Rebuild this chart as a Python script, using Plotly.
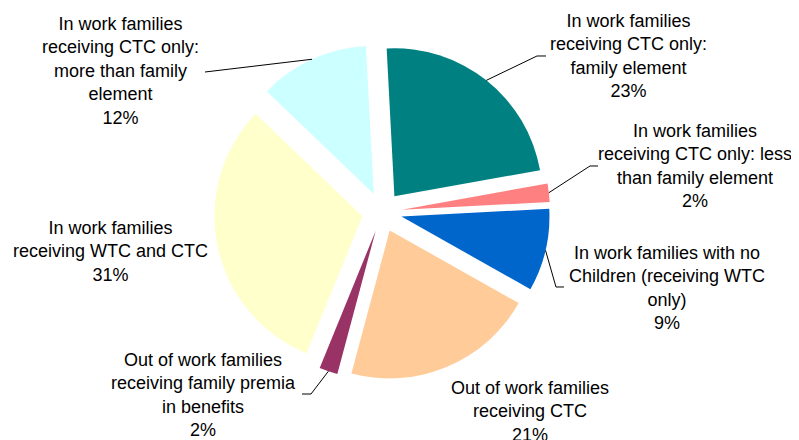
import math
import plotly.graph_objects as go

# ---------------- data ----------------
labels = [
    "In work families<br>receiving CTC only:<br>family element",
    "In work families<br>receiving CTC only: less<br>than family element",
    "In work families with no<br>Children (receiving WTC<br>only)",
    "Out of work families<br>receiving CTC",
    "Out of work families<br>receiving family premia<br>in benefits",
    "In work families<br>receiving WTC and CTC",
    "In work families<br>receiving CTC only:<br>more than family<br>element",
]
values = [23, 2, 9, 21, 2, 31, 12]
colors = ["#008080", "#FF8080", "#0066CC", "#FFCC99", "#993366", "#FFFFCC", "#CCFFFF"]

# ---------------- layout ----------------
VW, VH = 799, 440          # browser window
OFF = 8                    # page body margin
W, H = VW - OFF, VH - OFF  # figure size
CX, CY = 382, 212          # pie centre (window px)
R = 148                    # pie radius (px)
PULL = 0.135
ROT = -3                   # plotly rotation (deg, clockwise from 12 o'clock)
FONT = "Liberation Sans, Arial, sans-serif"

# label centres (window px) and leader label-side points (window px)
label_pos = [(628, 56), (695, 166), (667, 287.5), (530, 411), (203, 394.5), (110, 251.5), (120, 71)]
leader_pts = [
    [(537, 56), (546, 56)],
    [(590, 166), (598, 166)],
    [(556, 287), (564, 287)],
    None,
    [(311, 394), (302, 394)],
    None,
    [(205, 72)],
]

def px(x):
    return (x - OFF) / W

def py(y):
    return 1 - (y - OFF) / H

half = R * (1 + PULL)
fig = go.Figure(go.Pie(
    labels=labels,
    values=values,
    sort=False,
    direction="clockwise",
    rotation=ROT,
    pull=PULL,
    marker=dict(colors=colors, line=dict(width=0)),
    textinfo="none",
    showlegend=False,
    hoverinfo="skip",
    domain=dict(x=[px(CX - half), px(CX + half)], y=[py(CY + half), py(CY - half)]),
))

total = sum(values)
start = 90 - ROT
annotations = []
shapes = []
cum = 0
for i, v in enumerate(values):
    a0 = start - cum / total * 360
    cum += v
    a1 = start - cum / total * 360
    mid = math.radians((a0 + a1) / 2)
    ax = CX + R * (1 + PULL) * math.cos(mid)
    ay = CY - R * (1 + PULL) * math.sin(mid)
    lx, ly = label_pos[i]
    annotations.append(dict(
        x=px(lx), y=py(ly), xref="paper", yref="paper",
        xanchor="center", yanchor="middle", align="center",
        text=f"{labels[i]}<br>{v}%", showarrow=False,
        font=dict(family=FONT, size=18, color="#000000"),
    ))
    if leader_pts[i]:
        pts = [(ax, ay)] + leader_pts[i]
        path = "M " + " L ".join(f"{px(x):.5f},{py(y):.5f}" for x, y in pts)
        shapes.append(dict(type="path", path=path, xref="paper", yref="paper",
                           line=dict(color="#000000", width=1)))

fig.update_layout(
    width=W, height=H,
    margin=dict(l=0, r=0, t=0, b=0),
    paper_bgcolor="white",
    plot_bgcolor="white",
    annotations=annotations,
    shapes=shapes,
)
fig.write_html("out.html")
